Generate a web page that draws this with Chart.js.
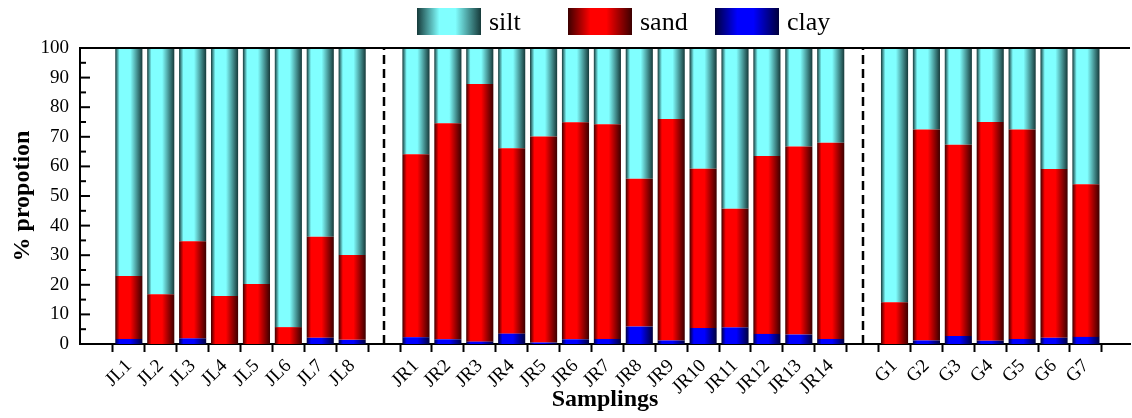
<!DOCTYPE html>
<html>
<head>
<meta charset="utf-8">
<script src="https://cdn.jsdelivr.net/npm/chart.js@4/dist/chart.umd.min.js"></script>
<style>
  body { margin: 0; background: #fff; }
  #wrap { position: relative; width: 1132px; height: 418px; }
  #legend { position: absolute; top: 8px; left: 0; width: 1132px; height: 27px;
            font-family: "Liberation Serif", "Times New Roman", serif; font-size: 26px; color: #000; }
  .item { position: absolute; top: 0; height: 27px; line-height: 27px; white-space: nowrap; }
  .box { display: inline-block; width: 64px; height: 27px; vertical-align: top; margin-right: 8px; }
</style>
</head>
<body>
<div id="wrap">
  <canvas id="grainChart" width="1132" height="418"></canvas>
  <div id="legend"></div>
</div>
<script>
// categorias (vazio = separador entre grupos)
const categories = ['JL1', 'JL2', 'JL3', 'JL4', 'JL5', 'JL6', 'JL7', 'JL8', '',
    'JR1', 'JR2', 'JR3', 'JR4', 'JR5', 'JR6', 'JR7', 'JR8', 'JR9', 'JR10', 'JR11', 'JR12', 'JR13', 'JR14', '',
    'G1', 'G2', 'G3', 'G4', 'G5', 'G6', 'G7'];

const clay = [1.7, 0, 1.9, 0, 0, 0, 2.1, 1.4, null,
    2.3, 1.6, 0.8, 3.5, 0.5, 1.6, 1.7, 5.9, 1.2, 5.4, 5.6, 3.4, 3.2, 1.7, null,
    0, 1.2, 2.7, 1.1, 1.7, 2.1, 2.4];
const sand = [21.3, 16.8, 32.8, 16.2, 20.3, 5.7, 34.1, 28.7, null,
    61.8, 73.0, 87.0, 62.6, 69.6, 73.3, 72.5, 49.9, 74.8, 53.8, 40.1, 60.1, 63.5, 66.3, null,
    14.1, 71.3, 64.6, 73.9, 70.8, 57.0, 51.6];
const silt = [77.0, 83.2, 65.3, 83.8, 79.7, 94.3, 63.8, 69.9, null,
    35.9, 25.4, 12.2, 33.9, 29.9, 25.1, 25.8, 44.2, 24.0, 40.8, 54.3, 36.5, 33.3, 32.0, null,
    85.9, 27.5, 32.7, 25.0, 27.5, 40.9, 46.0];

const yTicks = [0, 10, 20, 30, 40, 50, 60, 70, 80, 90, 100];

const BAR_PCT = 0.85;
const serif = '"Liberation Serif", "Times New Roman", serif';

// cores: escuro nas bordas, claro no meio
const series = [
    { label: 'clay', data: clay, dark: '#00003c', bright: '#0000ff' },
    { label: 'sand', data: sand, dark: '#3c0000', bright: '#ff0000' },
    { label: 'silt', data: silt, dark: '#163a3a', bright: '#80ffff' }
];

function barGradient(dark, bright) {
    return function(ctx) {
        const chart = ctx.chart;
        const xs = chart.scales.x;
        if (!chart.chartArea || !xs || ctx.type !== 'data') return bright;
        const cx = xs.getPixelForValue(ctx.parsed.x);
        const half = (xs.getPixelForValue(1) - xs.getPixelForValue(0)) * BAR_PCT / 2;
        const g = chart.ctx.createLinearGradient(cx - half, 0, cx + half, 0);
        g.addColorStop(0, dark);
        g.addColorStop(0.16, bright);
        g.addColorStop(0.55, bright);
        g.addColorStop(1, dark);
        return g;
    };
}

// linhas tracejadas, bordas e ticks internos do eixo y
const extrasPlugin = {
    id: 'extras',
    afterDatasetsDraw(chart) {
        const { ctx, chartArea, scales } = chart;
        ctx.save();
        ctx.strokeStyle = '#000';
        ctx.lineWidth = 2;
        // borda superior
        ctx.beginPath();
        ctx.moveTo(chartArea.left, chartArea.top);
        ctx.lineTo(chartArea.right, chartArea.top);
        ctx.stroke();
        // ticks internos (maiores e menores)
        for (let v = 0; v <= 100; v += 5) {
            const y = scales.y.getPixelForValue(v);
            const len = v % 10 === 0 ? 10 : 6;
            ctx.beginPath();
            ctx.moveTo(chartArea.left, y);
            ctx.lineTo(chartArea.left + len, y);
            ctx.stroke();
        }
        // separadores entre grupos
        ctx.lineWidth = 2.5;
        ctx.setLineDash([9, 5]);
        categories.forEach((c, i) => {
            if (c !== '') return;
            const x = Math.round(scales.x.getPixelForValue(i));
            ctx.beginPath();
            ctx.moveTo(x, chartArea.bottom);
            ctx.lineTo(x, chartArea.top);
            ctx.stroke();
        });
        ctx.restore();
    }
};

const config = {
    type: 'bar',
    data: {
        datasets: series.map(s => ({
            label: s.label,
            data: s.data.map((v, i) => ({ x: i, y: v })),
            backgroundColor: barGradient(s.dark, s.bright),
            borderWidth: 0,
            barPercentage: BAR_PCT,
            categoryPercentage: 1
        }))
    },
    options: {
        responsive: false,
        animation: false,
        layout: { padding: { top: 48, right: 2, left: 0, bottom: 0 } },
        plugins: {
            legend: { display: false },
            tooltip: { enabled: false }
        },
        scales: {
            x: {
                type: 'linear',
                stacked: true,
                min: -1,
                max: 30.85,
                afterBuildTicks: (scale) => {
                    scale.ticks = categories.map((c, i) => ({ value: i }));
                },
                afterFit: (scale) => { scale.height = 74; },
                ticks: {
                    autoSkip: false,
                    maxRotation: 45,
                    minRotation: 45,
                    padding: 3,
                    color: '#000',
                    font: { family: serif, size: 19 },
                    callback: (value) => categories[value] || ''
                },
                grid: {
                    drawOnChartArea: false,
                    drawTicks: true,
                    tickLength: 8,
                    tickWidth: 2,
                    color: '#000'
                },
                border: { color: '#000', width: 2 },
                title: {
                    display: true,
                    text: 'Samplings',
                    color: '#000',
                    font: { family: serif, size: 24, weight: 'bold' },
                    padding: { top: 0, bottom: 4 }
                }
            },
            y: {
                stacked: true,
                min: 0,
                max: 100,
                afterBuildTicks: (scale) => {
                    scale.ticks = yTicks.map(v => ({ value: v }));
                },
                afterFit: (scale) => { scale.width = 80; },
                ticks: {
                    padding: 3,
                    color: '#000',
                    font: { family: serif, size: 19 }
                },
                grid: { display: false },
                border: { color: '#000', width: 2 },
                title: {
                    display: true,
                    text: '% propotion',
                    color: '#000',
                    font: { family: serif, size: 24, weight: 'bold' },
                    padding: { top: 8, bottom: 0 }
                }
            }
        }
    },
    plugins: [extrasPlugin]
};

new Chart(document.getElementById('grainChart').getContext('2d'), config);

// legenda em HTML com gradiente
const legendPos = { silt: 417, sand: 568, clay: 715 };
const legendEl = document.getElementById('legend');
['silt', 'sand', 'clay'].forEach(name => {
    const s = series.find(d => d.label === name);
    const item = document.createElement('span');
    item.className = 'item';
    item.style.left = legendPos[name] + 'px';
    item.innerHTML = '<span class="box" style="background: linear-gradient(to right, ' +
        s.dark + ' 0%, ' + s.bright + ' 35%, ' + s.bright + ' 60%, ' + s.dark + ' 100%)"></span>' + name;
    legendEl.appendChild(item);
});
</script>
</body>
</html>
